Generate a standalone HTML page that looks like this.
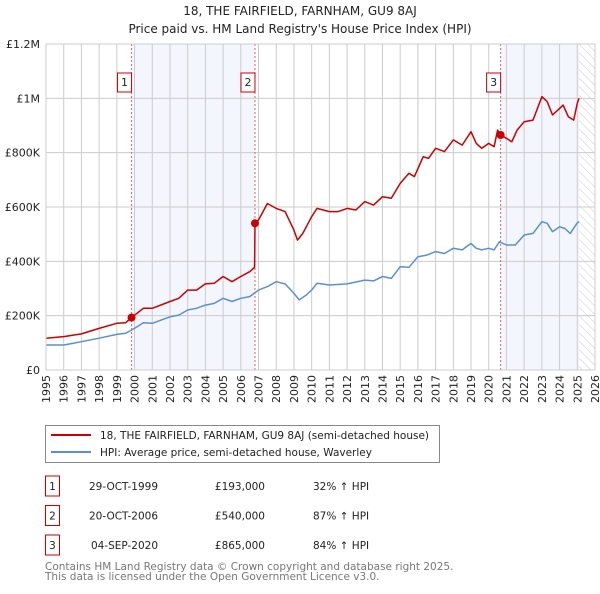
<!DOCTYPE html>
<html><head><meta charset="utf-8">
<style>
body{margin:0;background:#fff;font-family:"DejaVu Sans","Liberation Sans",sans-serif;}
svg text{font-family:"DejaVu Sans","Liberation Sans",sans-serif;}
</style></head>
<body>
<svg id="c" width="600" height="590" xmlns="http://www.w3.org/2000/svg">
<defs>
<pattern id="hatch" width="6" height="6" patternUnits="userSpaceOnUse" patternTransform="rotate(-45)">
<line x1="0" y1="0" x2="0" y2="6" stroke="#ccc" stroke-width="1"/></pattern>
</defs>
<text x="300" y="15" text-anchor="middle" font-size="12" fill="#222">18, THE FAIRFIELD, FARNHAM, GU9 8AJ</text>
<text x="300" y="33" text-anchor="middle" font-size="12" fill="#222">Price paid vs. HM Land Registry's House Price Index (HPI)</text>
<g id="plot"></g>
<g>
<rect x="45.5" y="425.5" width="394" height="37" fill="#fff" stroke="#888"/>
<line x1="51" y1="435" x2="91" y2="435" stroke="#cc0000" stroke-width="2"/>
<text x="100" y="439" font-size="10.5" fill="#222">18, THE FAIRFIELD, FARNHAM, GU9 8AJ (semi-detached house)</text>
<line x1="51" y1="452" x2="91" y2="452" stroke="#5b8fd4" stroke-width="2"/>
<text x="100" y="456" font-size="10.5" fill="#222">HPI: Average price, semi-detached house, Waverley</text>
</g>
<g id="table" font-size="10.5" fill="#222"></g>
<text x="45" y="570" font-size="10.5" fill="#777">Contains HM Land Registry data © Crown copyright and database right 2025.</text>
<text x="45" y="580" font-size="10.5" fill="#777">This data is licensed under the Open Government Licence v3.0.</text>
</svg>
<script>
const years=[1995,1996,1997,1998,1999,2000,2001,2002,2003,2004,2005,2006,2007,2008,2009,2010,2011,2012,2013,2014,2015,2016,2017,2018,2019,2020,2021,2022,2023,2024,2025,2026];
const yTicks=[0,200000,400000,600000,800000,1000000,1200000];
const yTickLabels=["£0","£200K","£400K","£600K","£800K","£1M","£1.2M"];
const redT=[1995,1996,1996.5,1997,1998,1999,1999.5,1999.83,2000.5,2001,2002,2002.5,2003,2003.5,2004,2004.5,2005,2005.5,2006,2006.5,2006.78,2006.8,2007,2007.5,2008,2008.5,2009,2009.2,2009.5,2010,2010.3,2011,2011.5,2012,2012.5,2013,2013.5,2014,2014.5,2015,2015.5,2015.8,2016.3,2016.6,2017,2017.5,2018,2018.5,2019,2019.3,2019.6,2020,2020.3,2020.5,2020.67,2021,2021.3,2021.6,2022,2022.5,2023,2023.3,2023.6,2024,2024.2,2024.5,2024.8,2025,2025.1];
const redV=[117,123,128,133,153,172,174,193,227,227,252,264,294,294,317,319,344,325,344,362,378,540,552,613,595,583,515,478,503,564,595,583,583,595,589,620,607,638,632,687,724,712,785,779,816,804,847,828,877,834,816,834,822,883,865,853,840,883,914,920,1006,988,939,963,975,932,920,982,1000];
const hpiT=[1995,1996,1996.5,1997,1998,1999,1999.5,2000,2000.5,2001,2002,2002.5,2003,2003.5,2004,2004.5,2005,2005.5,2006,2006.5,2007,2007.5,2008,2008.5,2009,2009.3,2009.7,2010,2010.3,2011,2012,2013,2013.5,2014,2014.5,2015,2015.5,2016,2016.5,2017,2017.5,2018,2018.5,2019,2019.3,2019.6,2020,2020.3,2020.6,2021,2021.5,2022,2022.5,2023,2023.3,2023.6,2024,2024.3,2024.6,2025,2025.1];
const hpiV=[92,92,98,104,117,131,135,153,174,172,196,202,221,227,239,245,264,252,264,270,294,307,325,317,282,258,276,294,319,313,317,331,328,344,337,380,378,417,423,436,429,448,442,466,448,442,448,442,472,460,460,497,503,546,540,509,527,521,503,542,546];
const saleT=[1999.83,2006.8,2020.67];
const saleV=[193,540,865];
const saleLabels=["1","2","3"];
const saleDates=["29-OCT-1999","20-OCT-2006","04-SEP-2020"];
const salePrices=["£193,000","£540,000","£865,000"];
const saleHpi=["32% ↑ HPI","87% ↑ HPI","84% ↑ HPI"];

const NS="http://www.w3.org/2000/svg";
const X0=46,X1=595,Y0=370,Y1=44;
const xs=t=>X0+(t-1995)/(2026-1995)*(X1-X0);
const ys=v=>Y0-v/1200000*(Y0-Y1);
const plot=document.getElementById('plot');
function mk(tag,at,parent){const e=document.createElementNS(NS,tag);for(const k in at)e.setAttribute(k,at[k]);(parent||plot).appendChild(e);return e;}
let e;
e=mk('rect',{x:X0,y:Y1,width:X1-X0,height:Y0-Y1,fill:'#fff'});


e=mk('rect',{x:xs(saleT[0]),y:Y1,width:xs(saleT[1])-xs(saleT[0]),height:Y0-Y1,fill:'#f3f6fd'});


e=mk('rect',{x:xs(saleT[2]),y:Y1,width:xs(2025.1)-xs(saleT[2]),height:Y0-Y1,fill:'#f3f6fd'});


e=mk('rect',{x:xs(2025.1),y:Y1,width:X1-xs(2025.1),height:Y0-Y1,fill:'url(#hatch)'});


years.forEach(y=>{
 e=mk('line',{x1:xs(y),x2:xs(y),y1:Y1,y2:Y0,stroke:'#ccc','stroke-width':1});
 
 
 e=mk('text',{x:0,y:0,transform:`translate(${xs(y)+4},${Y0+5}) rotate(-90)`,'text-anchor':'end','font-size':11,fill:'#222'});
 e.textContent=y;
 
 
});
yTicks.forEach((v,i)=>{
 e=mk('line',{x1:X0,x2:X1,y1:ys(v),y2:ys(v),stroke:'#ccc','stroke-width':1});
 
 
 e=mk('text',{x:X0-6,y:ys(v)+4,'text-anchor':'end','font-size':11,fill:'#222'});
 e.textContent=yTickLabels[i];
 
 
});
saleT.forEach((t,i)=>{
 e=mk('line',{x1:xs(t),x2:xs(t),y1:Y1,y2:Y0,stroke:'#e06060','stroke-width':1,'stroke-dasharray':'2,2'});
 
 
 e=mk('rect',{x:xs(t)-14,y:73,width:14,height:19,fill:'#fff',stroke:'#cc0000'});
 
 
 e=mk('text',{x:xs(t)-7,y:86,'text-anchor':'middle','font-size':11,fill:'#222'});
 e.textContent=saleLabels[i];
 
 
});
function path(T,V,col,name){
 const d=T.map((t,i)=>(i?'L':'M')+xs(t).toFixed(1)+','+ys(V[i]*1000).toFixed(1)).join('');
 e=mk('path',{d:d,fill:'none',stroke:col,'stroke-width':1.5,'stroke-linejoin':'round'});
 
 
}
path(hpiT,hpiV,'#5b8fd4','hpi-line');
path(redT,redV,'#cc0000','price-paid-line');
saleT.forEach((t,i)=>{
 e=mk('circle',{cx:xs(t),cy:ys(saleV[i]*1000),r:4,fill:'#cc0000'});
 
 
});
e=mk('rect',{x:X0,y:Y1,width:X1-X0,height:Y0-Y1,fill:'none',stroke:'#ccc'});


const tb=document.getElementById('table');
saleT.forEach((t,i)=>{
 const cy=486+i*29.5;
 e=mk('rect',{x:45.5,y:cy-10,width:14,height:20,fill:'#fff',stroke:'#cc0000'},tb);
 
 
 e=mk('text',{x:52.5,y:cy+4,'text-anchor':'middle'},tb);e.textContent=saleLabels[i];
 
 
 e=mk('text',{x:158,y:cy+4,'text-anchor':'end'},tb);e.textContent=saleDates[i];
 
 
 e=mk('text',{x:265,y:cy+4,'text-anchor':'end'},tb);e.textContent=salePrices[i];
 
 
 e=mk('text',{x:313,y:cy+4},tb);e.textContent=saleHpi[i];
 
 
});
</script>
</body></html>
